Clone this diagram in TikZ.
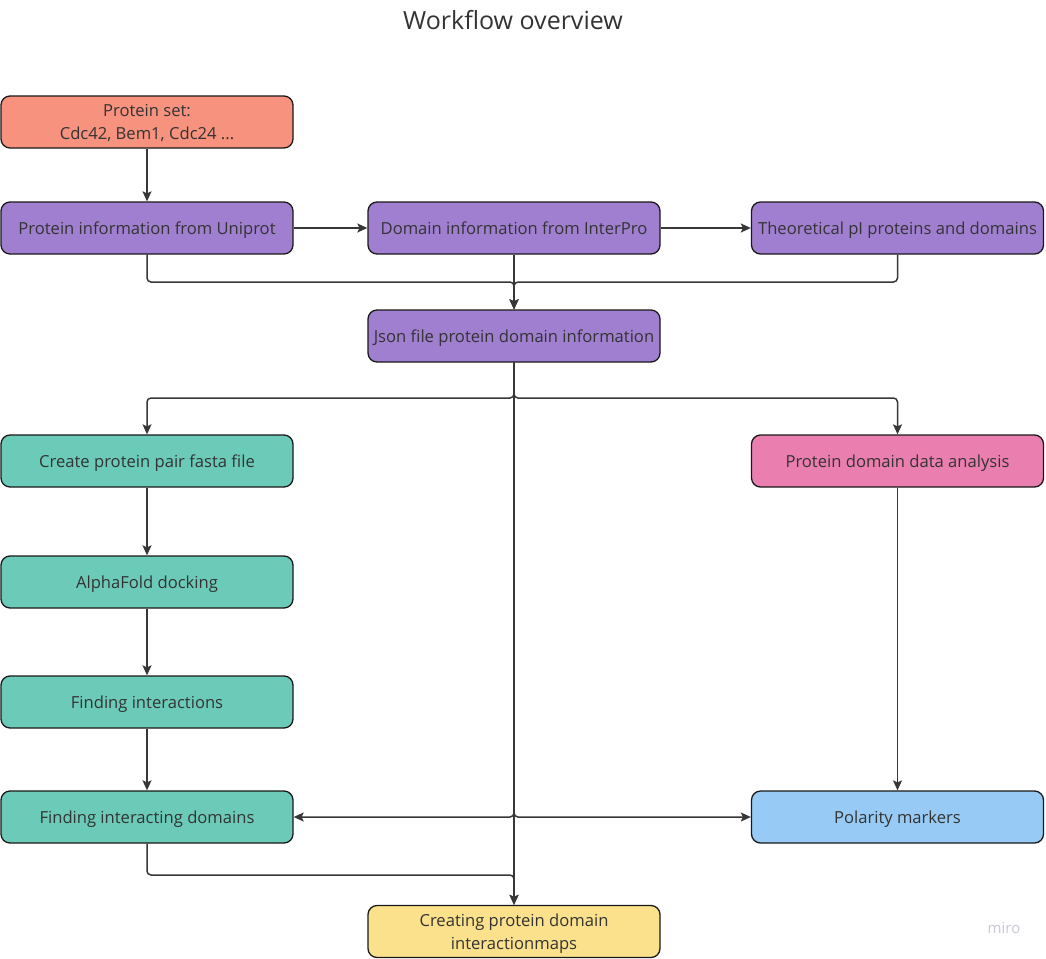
\documentclass[tikz,border=0pt]{standalone}
\usepackage{fontspec}
\setmainfont{Open Sans}
\usetikzlibrary{arrows.meta}
\definecolor{salmon}{RGB}{246,146,126}
\definecolor{purp}{RGB}{161,127,208}
\definecolor{teal}{RGB}{108,203,184}
\definecolor{pinkc}{RGB}{234,127,175}
\definecolor{bluec}{RGB}{151,203,245}
\definecolor{yell}{RGB}{251,225,139}
\definecolor{txt}{RGB}{51,51,51}
\definecolor{linec}{RGB}{55,55,55}
\definecolor{miroc}{RGB}{200,200,214}
\tikzset{
  box/.style={draw=black!90, line width=1.3pt, rounded corners=9pt, minimum width=292pt, minimum height=52pt,
    inner sep=2pt, align=center, text=txt, text depth=0.5pt, font=\fontsize{16.6}{23}\selectfont},
  conn/.style={draw=linec, line width=1.5pt, rounded corners=4pt, -{Stealth[length=10pt,width=9pt,inset=2pt]}}
}
\begin{document}
\begin{tikzpicture}[x=1pt,y=-1pt]
\useasboundingbox (0,0) rectangle (1046,958);
\node[text=txt, font=\fontsize{25}{29}\selectfont] (title) at (513,20) {Workflow overview};
\node[box, fill=salmon] (set) at (147,122) {Protein set:\\Cdc42, Bem1, Cdc24 ...};
\node[box, fill=purp] (uni) at (147,228) {Protein information from Uniprot};
\node[box, fill=purp] (ipr) at (514,228) {Domain information from InterPro};
\node[box, fill=purp] (tpi) at (897.5,228) {Theoretical pI proteins and domains};
\node[box, fill=purp] (json) at (514,336) {Json file protein domain information};
\node[box, fill=teal] (fasta) at (147,461) {Create protein pair fasta file};
\node[box, fill=pinkc] (pda) at (897.5,461) {Protein domain data analysis};
\node[box, fill=teal] (alpha) at (147,582) {AlphaFold docking};
\node[box, fill=teal] (fint) at (147,702) {Finding interactions};
\node[box, fill=teal] (fid) at (147,817) {Finding interacting domains};
\node[box, fill=bluec] (pol) at (897.5,817) {Polarity markers};
\node[box, fill=yell] (cre) at (514,931.5) {Creating protein domain\\interactionmaps};
\node[text=miroc, font=\fontsize{15}{17}\selectfont] (miro) at (1004,928) {miro};
\coordinate (j1) at (514,282);
\coordinate (j2) at (514,398);
\coordinate (j3) at (514,875);
\draw[conn] (set) -- (uni);
\draw[conn] (uni) -- (ipr);
\draw[conn] (ipr) -- (tpi);
\draw[conn] (uni.south) |- (j1) -- (json.north);
\draw[conn] (tpi.south) |- (j1) -- (json.north);
\draw[conn] (ipr.south) -- (json.north);
\draw[conn] (json.south) -- (j2) -| (fasta.north);
\draw[conn] (json.south) -- (j2) -| (pda.north);
\draw[conn] (json.south) |- (fid.east);
\draw[conn] (json.south) |- (pol.west);
\draw[conn] (json.south) -- (cre.north);
\draw[conn] (fasta) -- (alpha);
\draw[conn] (alpha) -- (fint);
\draw[conn] (fint) -- (fid);
\draw[conn] (pda) -- (pol);
\draw[conn] (fid.south) |- (j3) -- (cre.north);
\end{tikzpicture}
\end{document}
